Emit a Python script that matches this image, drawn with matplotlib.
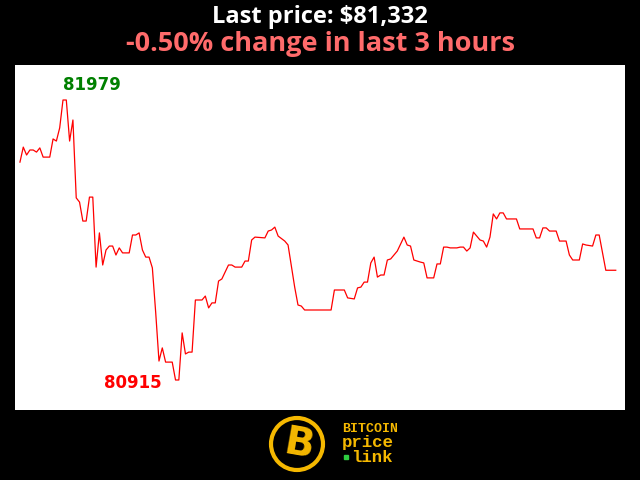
import matplotlib
matplotlib.use("Agg")
import matplotlib.pyplot as plt
from matplotlib.patches import Circle

# minutes since start of window, and price in USD
minutes = [0, 1, 2, 3, 4, 5, 6, 7, 9, 10, 11, 12, 13, 14, 15, 16, 17, 18, 19, 20,
           21, 22, 23, 24, 25, 26, 27, 28, 29, 30, 31, 33, 34, 35, 36, 37, 38, 39, 40, 41,
           42, 43, 44, 46, 47, 48, 49, 50, 51, 52, 53, 55, 56, 57, 58, 59, 60, 61, 63, 64,
           65, 67, 68, 69, 70, 71, 74, 75, 76, 77, 78, 80, 81, 83, 84, 85, 86, 94, 95, 98,
           99, 101, 102, 103, 104, 105, 106, 107, 108, 109, 110, 111, 112, 114, 116, 117, 118, 119, 121, 122,
           123, 125, 126, 127, 128, 129, 130, 132, 133, 134, 135, 136, 137, 139, 140, 141, 142, 143, 144, 145,
           146, 147, 150, 151, 155, 156, 157, 158, 159, 160, 162, 163, 165, 166, 167, 169, 170, 171, 173, 174,
           175, 177, 180]
prices = [81743, 81800, 81770, 81789, 81789, 81781, 81797, 81762, 81762, 81831, 81823, 81873, 81979, 81979, 81823, 81903, 81607, 81591, 81519, 81519,
          81610, 81610, 81344, 81474, 81352, 81409, 81424, 81424, 81390, 81417, 81398, 81398, 81466, 81466, 81474, 81409, 81382, 81382, 81341, 81173,
          80987, 81037, 80983, 80983, 80915, 80915, 81094, 81014, 81021, 81021, 81219, 81219, 81234, 81189, 81208, 81208, 81291, 81299, 81352, 81352,
          81344, 81344, 81367, 81367, 81447, 81458, 81455, 81481, 81485, 81496, 81462, 81443, 81428, 81268, 81200, 81196, 81181, 81181, 81257, 81257,
          81227, 81223, 81265, 81268, 81287, 81287, 81360, 81382, 81306, 81314, 81314, 81371, 81375, 81405, 81458, 81428, 81424, 81371, 81363, 81360,
          81303, 81303, 81356, 81356, 81420, 81420, 81417, 81417, 81420, 81420, 81405, 81417, 81477, 81447, 81443, 81420, 81458, 81546, 81527, 81550,
          81550, 81527, 81527, 81489, 81489, 81455, 81455, 81493, 81493, 81481, 81481, 81443, 81443, 81390, 81371, 81371, 81432, 81428, 81424, 81466,
          81466, 81332, 81332]

last_price = 81332
change_pct = -0.50
hours = 3

fig = plt.figure(figsize=(6.4, 4.8), dpi=100, facecolor="black")

fig.text(0.5, 0.965, "Last price: ${:,}".format(last_price), ha="center", va="center",
         color="white", fontsize=17, fontweight="bold", family="Open Sans")
fig.text(0.5, 0.908, "{:.2f}% change in last {} hours".format(change_pct, hours), ha="center", va="center",
         color="#ff6b6b", fontsize=19.5, fontweight="bold", family="Open Sans")

ax = fig.add_axes([15/640, 70/480, 610/640, 345/480])
ax.set_facecolor("white")
ax.plot(minutes, prices, color="red", linewidth=0.9)
ax.set_xlim(-1.5, 182.8)
ax.set_ylim(80801, 82112)
ax.set_xticks([])
ax.set_yticks([])
for s in ax.spines.values():
    s.set_visible(False)

hi = prices.index(max(prices))
lo = prices.index(min(prices))
ax.annotate(str(max(prices)), (minutes[hi], prices[hi]), xytext=(0, 4), textcoords="offset points",
            ha="left", va="bottom", color="green", fontsize=12, fontweight="bold")
ax.annotate(str(min(prices)), (minutes[lo], prices[lo]), xytext=(-10, -2), textcoords="offset points",
            ha="right", va="center", color="red", fontsize=12, fontweight="bold")

# logo
gold = "#f5b800"
lg = fig.add_axes([265/640, 0, 140/640, 70/480])
lg.set_xlim(0, 140)
lg.set_ylim(0, 70)
lg.set_aspect("equal")
lg.axis("off")
lg.add_patch(Circle((32, 36), 26, facecolor="black", edgecolor=gold, linewidth=3))
lg.text(34, 35, "B", ha="center", va="center", color=gold, fontsize=28,
        fontweight="bold", family="DejaVu Sans", rotation=-10)
lg.text(77, 50.5, "BITCOIN", ha="left", va="center", color=gold, fontsize=9.5,
        fontweight="bold", family="Liberation Mono")
lg.text(77, 37, "price", ha="left", va="center", color=gold, fontsize=12.5,
        fontweight="bold", family="Liberation Mono")
lg.text(86, 23, "link", ha="left", va="center", color=gold, fontsize=12.5,
        fontweight="bold", family="Liberation Mono")
lg.plot([80.5], [23], marker="s", markersize=2.5, color="#2ecc40")

fig.savefig("out.png", dpi=100, facecolor="black")
